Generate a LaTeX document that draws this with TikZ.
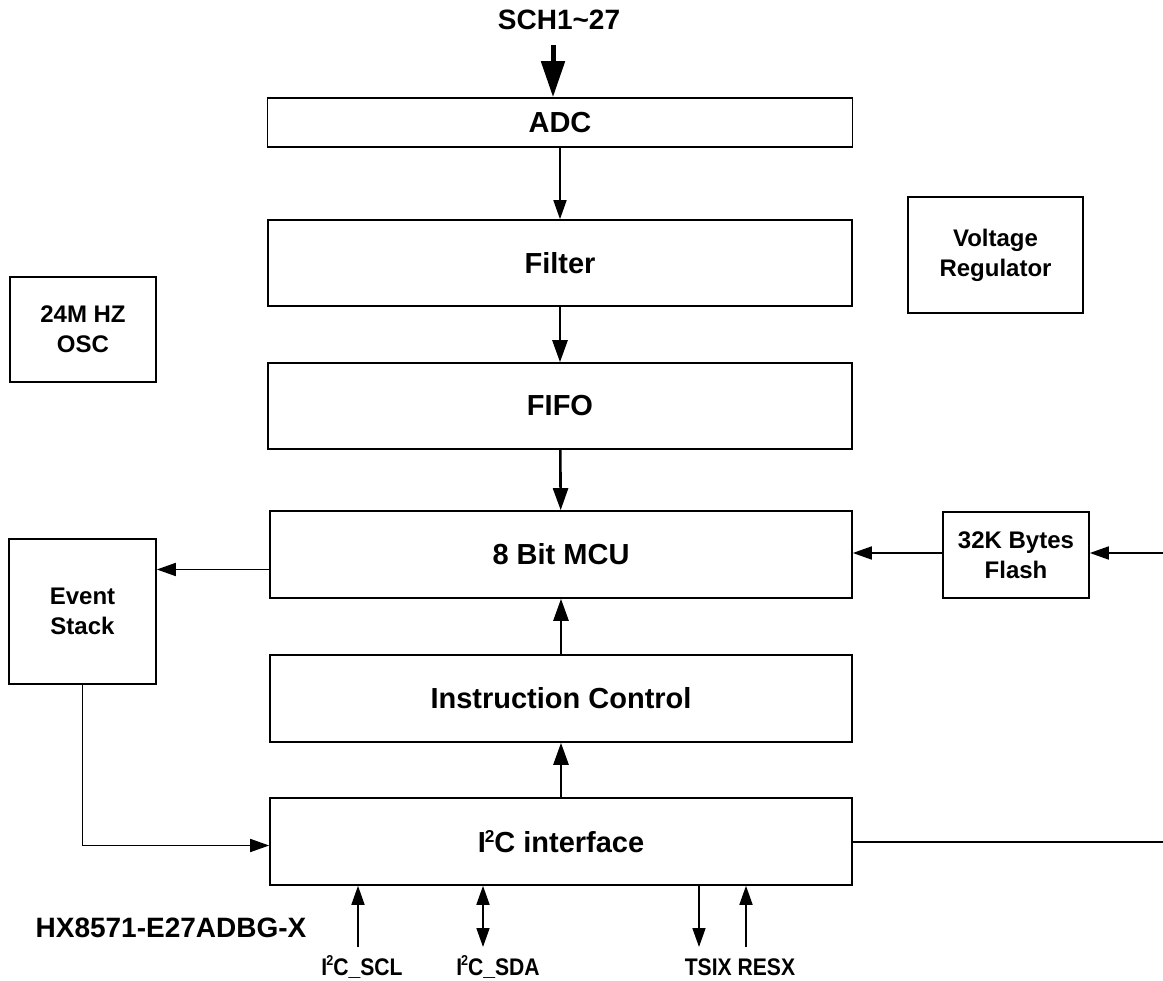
\documentclass[tikz,border=0pt]{standalone}
\usepackage{fontspec}
\setmainfont{Liberation Sans}
\newfontfamily\pinfont{Liberation Sans}[FakeStretch=0.88]
\usepackage{tikz}
\usetikzlibrary{arrows.meta,positioning,calc}
\newcommand{\iisq}{I\kern-1pt\raisebox{0.1em}{\scalebox{0.85}{\textsuperscript{2}}}\kern-0.5pt C}
\tikzset{
  blk/.style={draw,line width=1.6pt,align=center,inner sep=2pt,font=\bfseries\fontsize{29}{33}\selectfont},
  sblk/.style={blk,font=\bfseries\fontsize{24}{30}\selectfont},
  pinlbl/.style={font=\pinfont\bfseries\fontsize{24}{28}\selectfont,inner sep=1pt},
  flow/.style={-{Triangle[length=19pt,width=13pt]},line width=1.7pt},
  bus/.style={-{Triangle[length=22pt,width=15pt]},line width=2.6pt},
  wire/.style={line width=1.7pt},
}

\begin{document}
\begin{tikzpicture}[x=1pt,y=1pt]
  \useasboundingbox (0,0) rectangle (1163,-981);

  % Main chain.
  \node[blk,minimum width=585pt,minimum height=49pt] (adc) at (560,-122.5) {ADC};
  \node[blk,minimum width=584pt,minimum height=86pt] (filt) at (560,-263) {Filter};
  \node[blk,minimum width=584pt,minimum height=86pt] (fifo) at (560,-406) {FIFO};
  \node[blk,minimum width=582pt,minimum height=87pt] (mcu) at (561,-554.5) {8 Bit MCU};
  \node[blk,minimum width=582pt,minimum height=87pt] (ictl) at (561,-698.5) {Instruction Control};
  \node[blk,minimum width=582pt,minimum height=87pt] (iic) at (561,-841.5) {\iisq{} interface};

  % Side blocks.
  \node[sblk,minimum width=146pt,minimum height=105pt] (osc) at (83,-329.5) {24M HZ\\OSC};
  \node[sblk,minimum width=175pt,minimum height=116pt] (vreg) at (995.5,-255) {Voltage\\Regulator};
  \node[sblk,minimum width=146pt,minimum height=86pt] (flash) at (1016,-555) {32K Bytes\\Flash};
  \node[sblk,minimum width=147pt,minimum height=145pt] (evt) at (82.5,-611.5) {Event\\Stack};

  \node[font=\bfseries\fontsize{28}{32}\selectfont] (sch) at (559,-20) {SCH1\textasciitilde27};
  \node[font=\bfseries\fontsize{28}{32}\selectfont] (part) at (171,-928) {HX8571-E27ADBG-X};

  \coordinate (schp) at (553,-45);
  \draw[-{Triangle[length=36pt,width=23pt]},line width=5pt] (schp) -- (schp |- adc.north);
  \draw[flow] (adc) -- (filt);
  \draw[bus] (filt) -- (fifo);
  \draw[bus] (fifo) -- (mcu);
  \draw[bus] (ictl) -- (mcu);
  \draw[bus] (iic) -- (ictl);

  \coordinate (fin) at (1163,-553);
  \coordinate (iout) at (1163,-842);
  \draw[flow] (fin) -- (flash.east |- fin);
  \draw[flow] (flash.west |- fin) -- (mcu.east |- fin);
  \draw[flow] ([yshift=-15pt]mcu.west) -- ([yshift=-15pt]mcu.west -| evt.east);
  \draw[flow] (evt.south) |- ([yshift=-4pt]iic.west);
  \draw[wire] (iic.east |- iout) -- (iout);

  % Pins below the interface.
  \node[pinlbl] (scl) at (362,-967) {\iisq\_SCL};
  \node[pinlbl] (sda) at (498,-967) {\iisq\_SDA};
  \node[pinlbl] (tsix) at (740,-967) {TSIX RESX};
  \coordinate (sclp) at (358,-947);
  \coordinate (sdap) at (483,-947);
  \coordinate (tsixp) at (699,-947);
  \coordinate (resxp) at (746,-947);
  \draw[flow] (sclp) -- (sclp |- iic.south);
  \draw[{Triangle[length=19pt,width=13pt]}-{Triangle[length=19pt,width=13pt]},line width=1.7pt]
       (sdap |- iic.south) -- (sdap);
  \draw[flow] (tsixp |- iic.south) -- (tsixp);
  \draw[flow] (resxp) -- (resxp |- iic.south);
\end{tikzpicture}
\end{document}
